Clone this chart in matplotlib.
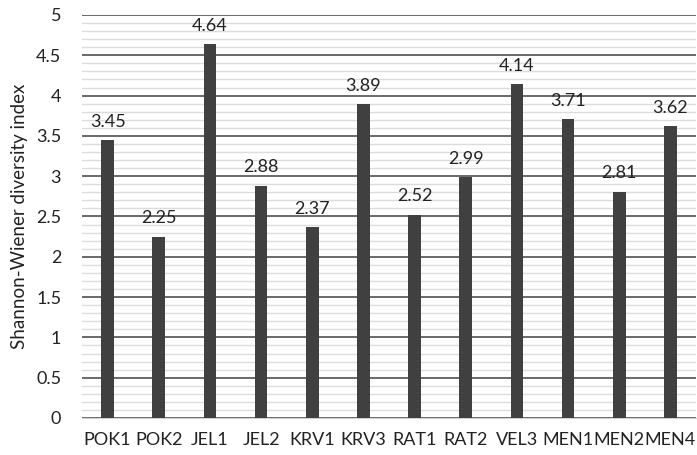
import matplotlib
matplotlib.use("Agg")
import matplotlib.pyplot as plt
import numpy as np
from matplotlib.ticker import MultipleLocator

sites = ["POK1", "POK2", "JEL1", "JEL2", "KRV1", "KRV3", "RAT1", "RAT2",
         "VEL3", "MEN1", "MEN2", "MEN4"]
shannon = [3.45, 2.25, 4.64, 2.88, 2.37, 3.89, 2.52, 2.99, 4.14, 3.71, 2.81, 3.62]

plt.rcParams["font.family"] = ["Lato", "DejaVu Sans"]

fig = plt.figure(figsize=(6.97, 4.55), dpi=100)
ax = fig.add_axes([82 / 697, 37 / 455, 614 / 697, 403 / 455])

x = np.arange(len(sites))
ax.bar(x, shannon, width=0.25, color="#404040", zorder=3)
for xi, v in zip(x, shannon):
    ax.annotate(f"{v:.2f}", (xi, v), xytext=(0, 7.5), textcoords="offset points",
                ha="center", va="bottom", fontsize=13, color="#222222")

ax.set_xlim(-0.5, len(sites) - 0.5)
ax.set_ylim(0, 5)
ax.yaxis.set_major_locator(MultipleLocator(0.5))
ax.yaxis.set_minor_locator(MultipleLocator(0.1))
ax.grid(which="minor", axis="y", color="#dcdcdc", linewidth=1.0, zorder=0)
ax.grid(which="major", axis="y", color="#505050", linewidth=1.2, zorder=1)
ax.set_yticks(np.arange(0, 5.01, 0.5))
ax.set_yticklabels([f"{t:g}" for t in np.arange(0, 5.01, 0.5)])
ax.set_xticks(x)
ax.set_xticklabels(sites)
ax.tick_params(axis="both", which="both", length=0, labelsize=13, colors="#222222")
ax.tick_params(axis="x", pad=10)
ax.tick_params(axis="y", pad=15)
for s in ["top", "right", "left"]:
    ax.spines[s].set_visible(False)
ax.spines["bottom"].set_color("#d0d0d0")
ax.spines["bottom"].set_zorder(2)

ax.set_ylabel("Shannon-Wiener diversity index", fontsize=13.5, color="#222222", labelpad=6)

fig.savefig("out.png", dpi=100)
